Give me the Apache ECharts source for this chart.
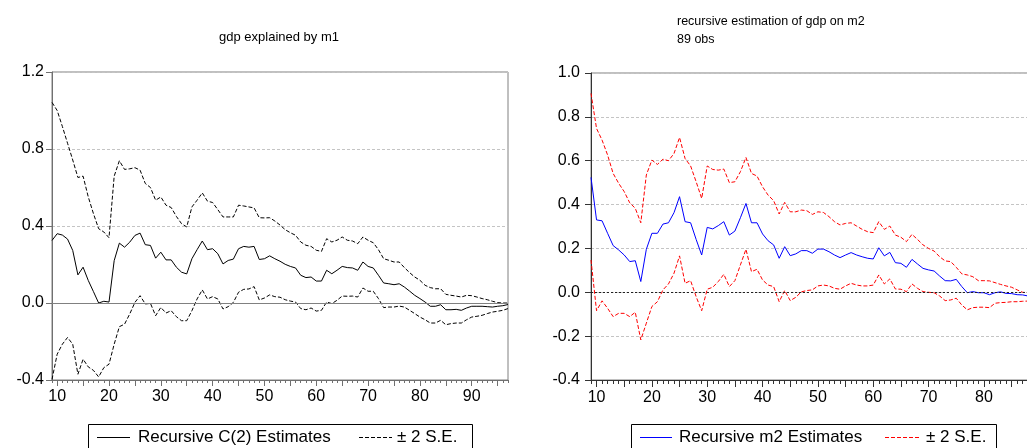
<!DOCTYPE html>
<html>
<head>
<meta charset="utf-8">
<script src="https://cdn.jsdelivr.net/npm/echarts@6/dist/echarts.min.js"></script>
<style>
html,body{margin:0;padding:0;background:#fff;overflow:hidden;width:1027px;height:448px;}
#chart{width:1080px;height:448px;}
</style>
</head>
<body>
<div id="chart"></div>
<script>
// observation numbers (categories) 9..97
const obs = [];
for (let i = 9; i <= 97; i++) obs.push(String(i));

// Left chart: recursive C(2) estimates and +/- 2 S.E. bands (obs 9..97)
const leftEst = [0.325,0.36,0.353,0.332,0.273,0.146,0.186,0.117,0.059,0.0,0.009,0.005,0.22,0.311,0.29,0.316,0.351,0.363,0.303,0.299,0.233,0.264,0.224,0.224,0.186,0.16,0.151,0.23,0.277,0.322,0.277,0.282,0.256,0.203,0.221,0.228,0.282,0.294,0.29,0.294,0.226,0.23,0.245,0.23,0.217,
  0.201,0.19,0.182,0.144,0.132,0.135,0.114,0.114,0.17,0.152,0.17,0.19,0.184,0.182,0.17,0.213,0.19,0.182,0.144,0.104,0.1,0.095,0.1,0.083,0.062,0.04,0.023,0.005,-0.017,-0.017,-0.009,-0.035,-0.035,-0.033,-0.038,-0.026,-0.017,-0.017,-0.017,-0.019,-0.021,-0.017,-0.014,-0.008];
const leftUpper = [1.042,1.0,0.917,0.83,0.743,0.652,0.659,0.551,0.464,0.386,0.369,0.339,0.659,0.739,0.694,0.697,0.703,0.69,0.621,0.6,0.534,0.551,0.508,0.496,0.45,0.412,0.395,0.499,0.534,0.572,0.529,0.522,0.485,0.447,0.447,0.447,0.508,0.504,0.499,0.494,0.443,0.442,0.443,0.426,0.405,
  0.381,0.365,0.352,0.317,0.3,0.294,0.274,0.268,0.334,0.317,0.326,0.343,0.326,0.322,0.308,0.343,0.326,0.313,0.277,0.23,0.222,0.213,0.213,0.184,0.158,0.135,0.118,0.092,0.08,0.074,0.074,0.045,0.04,0.036,0.031,0.04,0.038,0.031,0.023,0.017,0.009,0.002,0.0,0.0];
const leftLower = [-0.397,-0.266,-0.214,-0.179,-0.214,-0.37,-0.292,-0.332,-0.35,-0.384,-0.336,-0.318,-0.214,-0.123,-0.11,-0.057,0.003,0.038,-0.005,-0.002,-0.066,-0.023,-0.052,-0.04,-0.071,-0.092,-0.092,-0.04,0.021,0.068,0.021,0.033,0.021,-0.031,-0.019,0.003,0.056,0.071,0.073,0.085,0.016,0.026,0.042,0.033,0.03,
  0.017,0.01,0.005,-0.029,-0.035,-0.026,-0.042,-0.038,0.005,-0.003,0.014,0.036,0.035,0.036,0.031,0.078,0.061,0.061,0.023,-0.024,-0.021,-0.021,-0.016,-0.021,-0.038,-0.055,-0.073,-0.087,-0.104,-0.104,-0.09,-0.113,-0.107,-0.104,-0.104,-0.087,-0.073,-0.069,-0.064,-0.055,-0.047,-0.043,-0.038,-0.029];

// Right chart: recursive m2 estimates and +/- 2 S.E. (visible obs 9..88)
const rightEst = [0.524,0.33,0.326,0.269,0.213,0.193,0.17,0.14,0.144,0.049,0.196,0.269,0.269,0.311,0.317,0.363,0.436,0.322,0.317,0.241,0.17,0.296,0.289,0.304,0.322,0.261,0.279,0.34,0.405,0.317,0.317,0.266,0.235,0.216,0.155,0.208,0.167,0.175,0.19,0.19,
  0.178,0.197,0.197,0.185,0.17,0.158,0.17,0.181,0.17,0.162,0.155,0.152,0.203,0.166,0.182,0.135,0.132,0.114,0.15,0.129,0.109,0.102,0.097,0.074,0.053,0.052,0.059,0.026,-0.002,0.003,-0.002,-0.002,-0.011,-0.002,0.002,-0.005,-0.006,-0.011,-0.012,-0.017];
const rightUpper = [0.907,0.747,0.694,0.626,0.542,0.497,0.459,0.408,0.383,0.317,0.535,0.603,0.583,0.607,0.6,0.633,0.706,0.61,0.576,0.504,0.428,0.576,0.56,0.557,0.562,0.5,0.504,0.55,0.615,0.542,0.53,0.481,0.443,0.418,0.357,0.41,0.367,0.367,0.375,0.372,
  0.355,0.367,0.364,0.345,0.322,0.307,0.314,0.317,0.302,0.287,0.276,0.272,0.322,0.287,0.302,0.261,0.251,0.231,0.264,0.241,0.216,0.2,0.188,0.162,0.143,0.14,0.114,0.084,0.079,0.071,0.053,0.053,0.052,0.044,0.036,0.029,0.023,0.011,0.0,-0.002];
const rightLower = [0.147,-0.084,-0.039,-0.073,-0.111,-0.096,-0.096,-0.111,-0.091,-0.217,-0.141,-0.065,-0.043,0.011,0.038,0.087,0.166,0.041,0.053,-0.02,-0.084,0.014,0.023,0.049,0.082,0.026,0.053,0.125,0.196,0.094,0.105,0.056,0.033,0.026,-0.043,0.008,-0.038,-0.023,0.002,0.008,
  0.011,0.029,0.033,0.029,0.018,0.014,0.029,0.041,0.033,0.029,0.029,0.033,0.079,0.038,0.061,0.015,0.014,0.003,0.038,0.018,0.003,0.0,-0.002,-0.017,-0.038,-0.035,-0.027,-0.058,-0.08,-0.07,-0.068,-0.068,-0.07,-0.05,-0.047,-0.046,-0.043,-0.043,-0.041,-0.04];

// legend labels
const leftLegendNames = ['Recursive C(2) Estimates', '± 2 S.E.'];
const rightLegendNames = ['Recursive m2 Estimates', '± 2 S.E.'];

const FONT = "'Liberation Sans', Arial, sans-serif";
const fmt = v => (Math.abs(v) < 1e-9 ? '0.0' : v.toFixed(1));

function mainX(gridIndex, axisColor, tickLen, labelMargin) {
  return {
    type: 'category', gridIndex, data: obs, boundaryGap: false, position: 'bottom',
    axisLine: { show: true, onZero: false, lineStyle: { color: axisColor, width: 1 } },
    axisTick: { show: true, length: tickLen, interval: (i, v) => Number(v) % 5 === 0, lineStyle: { color: axisColor } },
    axisLabel: { interval: (i, v) => Number(v) % 10 === 0, margin: labelMargin, color: '#000', fontSize: 16, fontFamily: FONT },
    splitLine: { show: false }
  };
}
function minorX(gridIndex, axisColor, tickLen) {
  return {
    type: 'category', gridIndex, data: obs, boundaryGap: false, position: 'bottom',
    axisLine: { show: false, onZero: false },
    axisTick: { show: true, length: tickLen, interval: 0, lineStyle: { color: axisColor } },
    axisLabel: { show: false },
    splitLine: { show: false }
  };
}
function yAx(gridIndex, min, max, interval, axisColor, labelMargin) {
  return {
    type: 'value', gridIndex, min, max, interval,
    axisLine: { show: true, lineStyle: { color: axisColor, width: 1 } },
    axisTick: { show: true, length: 6, lineStyle: { color: axisColor } },
    axisLabel: { formatter: fmt, margin: labelMargin, color: '#000', fontSize: 16, fontFamily: FONT },
    splitLine: { show: true, lineStyle: { color: '#c4c4c4', type: [3, 2], width: 1 } }
  };
}
function lineSeries(name, data, xi, yi, color, dashed, zeroLine) {
  const s = {
    name, type: 'line', data, xAxisIndex: xi, yAxisIndex: yi,
    symbol: 'none', showSymbol: false, smooth: false, silent: true,
    lineStyle: { color, width: 1, type: dashed ? [4, 2] : 'solid' },
    itemStyle: { color }
  };
  if (zeroLine) {
    s.markLine = { silent: true, symbol: 'none', label: { show: false }, animation: false,
      lineStyle: zeroLine, data: [{ yAxis: 0 }] };
  }
  return s;
}

// legend boxes drawn as graphic elements
function legendBox(x0, x1, items) {
  const els = [{
    type: 'rect', shape: { x: x0 + 0.5, y: 424.5, width: x1 - x0, height: 40 },
    style: { fill: '#fff', stroke: '#000', lineWidth: 1 }, silent: true, z: 10
  }];
  items.forEach(it => {
    els.push({
      type: 'line', shape: { x1: it.l0, y1: 437.5, x2: it.l1, y2: 437.5 },
      style: { stroke: it.color, lineWidth: 1, lineDash: it.dash ? [4, 2] : null }, silent: true, z: 11
    });
    els.push({
      type: 'text', x: it.tx, y: 437, silent: true, z: 11,
      style: { text: it.text, font: '17px ' + FONT, fill: '#000', verticalAlign: 'middle', textVerticalAlign: 'middle' }
    });
  });
  return els;
}

const chart = echarts.init(document.getElementById('chart'), null, { renderer: 'canvas' });
chart.setOption({
  animation: false,
  backgroundColor: '#fff',
  title: [
    { text: 'gdp explained by m1', left: 219, top: 31, padding: 0,
      textStyle: { fontSize: 13, fontWeight: 'normal', color: '#000', fontFamily: FONT } },
    { text: 'recursive estimation of gdp on m2\n89 obs', left: 677, top: 13, padding: 0,
      textStyle: { fontSize: 12.5, fontWeight: 'normal', color: '#000', fontFamily: FONT, lineHeight: 18 } }
  ],
  grid: [
    { left: 52, top: 72, width: 456, height: 308, show: true, borderColor: '#808080', borderWidth: 1, containLabel: false },
    { left: 591, top: 73, width: 487, height: 307, show: true, borderColor: '#808080', borderWidth: 1, containLabel: false }
  ],
  xAxis: [
    mainX(0, '#707070', 6, 9),
    minorX(0, '#707070', 3),
    mainX(1, '#333333', 7, 10),
    minorX(1, '#333333', 4)
  ],
  yAxis: [
    yAx(0, -0.4, 1.2, 0.4, '#707070', 8),
    yAx(1, -0.4, 1.0, 0.2, '#333333', 11)
  ],
  graphic: {
    elements: [].concat(
      legendBox(88, 472, [
        { l0: 97, l1: 130, color: '#000', dash: false, tx: 138, text: leftLegendNames[0] },
        { l0: 359, l1: 392, color: '#000', dash: true, tx: 397, text: leftLegendNames[1] }
      ]),
      legendBox(631, 996, [
        { l0: 640, l1: 672, color: '#0000ff', dash: false, tx: 679, text: rightLegendNames[0] },
        { l0: 885, l1: 920, color: '#ff0000', dash: true, tx: 926, text: rightLegendNames[1] }
      ])
    )
  },
  series: [
    lineSeries('Recursive C(2) Estimates', leftEst, 0, 0, '#000', false, { color: '#808080', type: 'solid', width: 1 }),
    lineSeries('± 2 S.E.', leftUpper, 0, 0, '#000', true),
    lineSeries('± 2 S.E.', leftLower, 0, 0, '#000', true),
    lineSeries('Recursive m2 Estimates', rightEst, 2, 1, '#0000ff', false, { color: '#222', type: [2, 2], width: 1 }),
    lineSeries('± 2 S.E.', rightUpper, 2, 1, '#ff0000', true),
    lineSeries('± 2 S.E.', rightLower, 2, 1, '#ff0000', true)
  ]
});
</script>
</body>
</html>
